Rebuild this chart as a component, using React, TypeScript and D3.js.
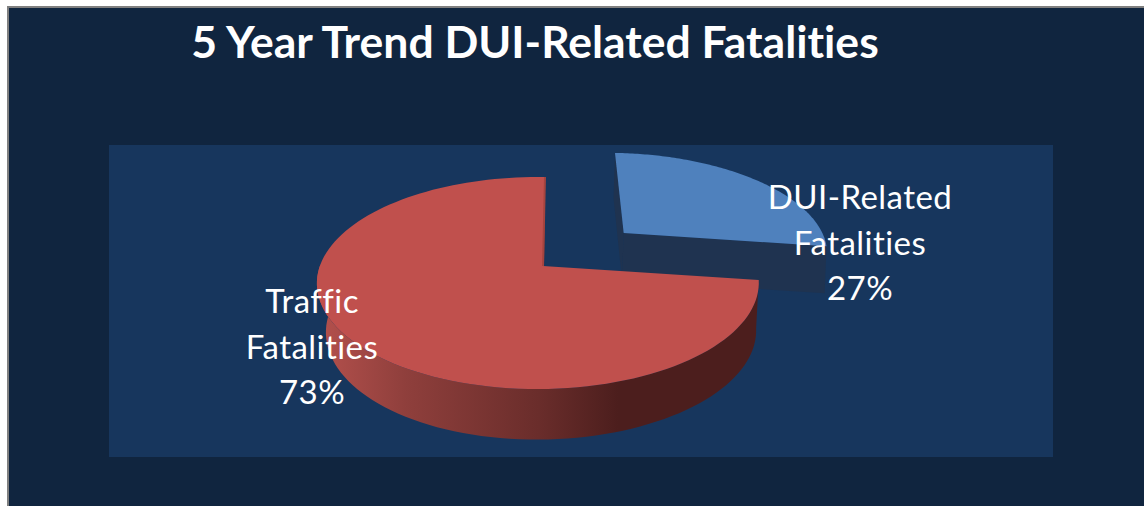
import React from "react";
import * as d3 from "d3";

const W = 1144, H = 506;
const categories = ["DUI-Related Fatalities", "Traffic Fatalities"];
const values = [27, 73];
const labelLines = [["DUI-Related", "Fatalities", "27%"], ["Traffic", "Fatalities", "73%"]];
const topColors = ["#4f81bd", "#c0504d"];
const titleText = "5 Year Trend DUI-Related Fatalities";
const explodeBy = [0.52, 0];
const firstSliceAngle = (0.6 * Math.PI) / 180;

// perspective projection of the unit pie plane onto the screen
const apex = [543, 266];
const project = (u: number, v: number, down = 0): [number, number] => {
  const w = 1 - 0.16 * v + 0.023 * u;
  const sx = 1 - down * (0.026 - 0.014 * u);
  return [apex[0] + (218 * u * sx) / w, apex[1] + (103.3 * v) / w + (48 * down) / Math.pow(w, 0.3)];
};

const pie = d3
  .pie<number>()
  .sort(null)
  .startAngle(firstSliceAngle)
  .endAngle(firstSliceAngle + 2 * Math.PI)
  .value((d) => d)(values);
const line = d3.line<[number, number]>().x((d) => d[0]).y((d) => d[1]);

function rim(a0: number, a1: number, off: [number, number], down: number) {
  const n = 120;
  return d3.range(n + 1).map((i) => {
    const a = a0 + ((a1 - a0) * i) / n;
    return project(Math.sin(a) + off[0], -Math.cos(a) + off[1], down);
  });
}

export default function App() {
  const slices = pie.map((p, i) => {
    const mid = (p.startAngle + p.endAngle) / 2;
    const off: [number, number] = [Math.sin(mid) * explodeBy[i], -Math.cos(mid) * explodeBy[i]];
    const top = rim(p.startAngle, p.endAngle, off, 0);
    const bot = rim(p.startAngle, p.endAngle, off, 1);
    const c0 = project(off[0], off[1], 0);
    const c1 = project(off[0], off[1], 1);
    return { top, bot, c0, c1 };
  });
  const [blue, red] = slices;
  // front-facing wall of the red slice: its rim from the right edge round to the left extreme
  const redWallN = red.top.filter((_, i) => i <= 79);
  const redWallB = red.bot.filter((_, i) => i <= 79);
  const face = (t: [number, number], b: [number, number], c0: [number, number], c1: [number, number]) =>
    line([c0, t, b, c1])! + "Z";
  return (
    <svg
      width={W}
      height={H}
      style={{ position: "absolute", left: 0, top: 0, fontVariantLigatures: "none" }}
      fontFamily="Lato, sans-serif"
    >
      <defs>
        <linearGradient id="wall" gradientUnits="userSpaceOnUse" x1={317} x2={760} y1={0} y2={0}>
          <stop offset="0" stopColor="#b5514d" />
          <stop offset="0.2" stopColor="#8f3f3c" />
          <stop offset="0.5" stopColor="#6a2d2b" />
          <stop offset="0.68" stopColor="#4c1e1d" />
          <stop offset="1" stopColor="#4c1e1d" />
        </linearGradient>
      </defs>
      <rect x={0} y={0} width={W} height={H} fill="#ffffff" />
      <rect x={7} y={6} width={W - 7} height={H - 6} fill="#808080" />
      <rect x={9} y={8} width={W - 9} height={H - 8} fill="#10253f" />
      <rect x={109} y={145} width={944} height={312} fill="#17365d" />

      {/* blue slice */}
      <path d={face(blue.top[0], blue.bot[0], blue.c0, blue.c1)} fill="#1f3350" />
      <path d={face(blue.top[120], blue.bot[120], blue.c0, blue.c1)} fill="#1f3350" />
      <path d={line([blue.c0, ...blue.top])! + "Z"} fill={topColors[0]} />

      {/* red slice */}
      <path d={face(red.top[120], red.bot[120], red.c0, red.c1)} fill="#7d3331" />
      <path d={line([...redWallN, ...[...redWallB].reverse()])! + "Z"} fill="url(#wall)" />
      <path d={line([red.c0, ...red.top])! + "Z"} fill={topColors[1]} />
      <path d={line([red.c0, red.top[120]])!} fill="none" stroke="#a5443f" strokeWidth={2} />

      <text x={535} y={58} textAnchor="middle" fontSize={44.5} fontWeight={700} fill="#ffffff">
        {titleText}
      </text>
      {labelLines.map((lines, i) =>
        lines.map((t, j) => (
          <text
            key={categories[i] + j}
            x={i === 0 ? 860 : 312}
            y={(i === 0 ? 209 : 313) + j * 45.5}
            textAnchor="middle"
            fontSize={33}
            letterSpacing={0.45}
            fill="#ffffff"
          >
            {t}
          </text>
        ))
      )}
    </svg>
  );
}
